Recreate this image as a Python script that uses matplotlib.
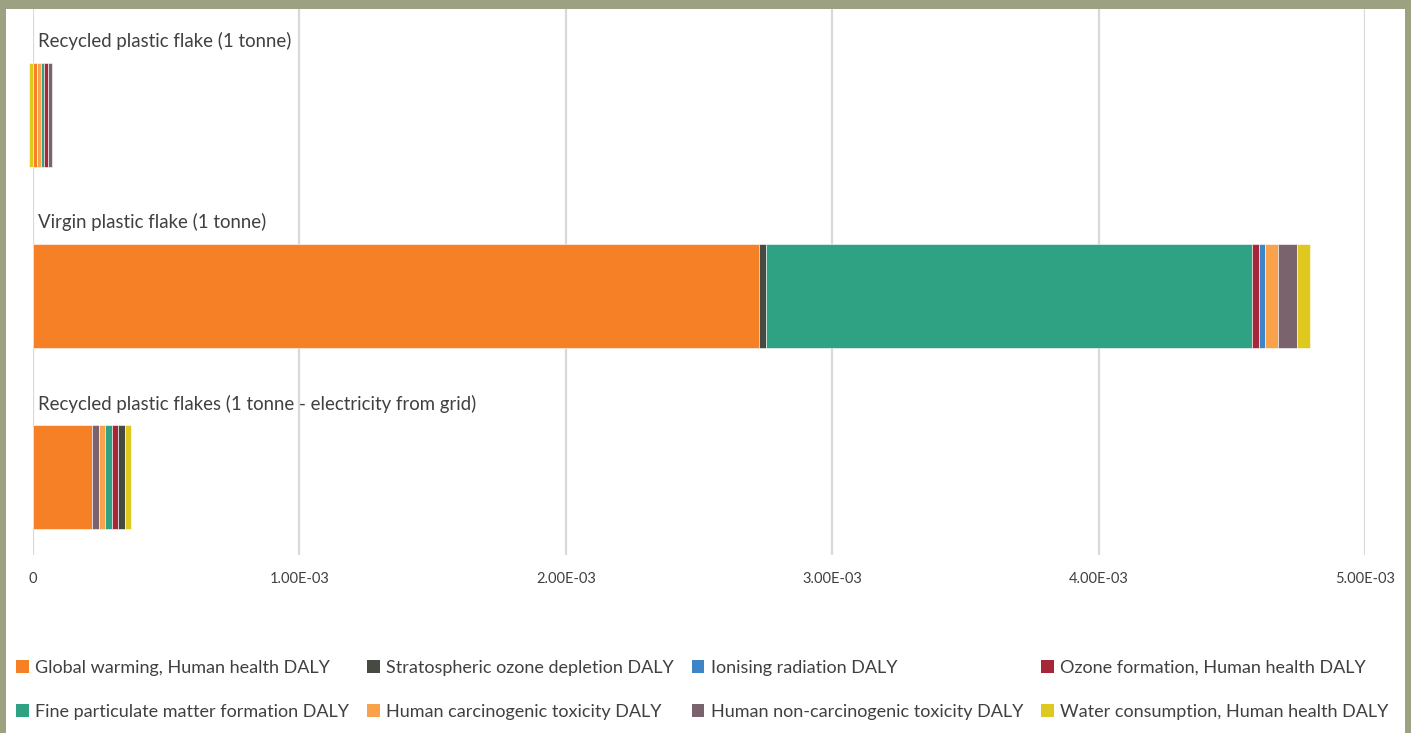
import matplotlib.pyplot as plt
from matplotlib.patches import Patch, Rectangle

# DALY per tonne of flake, by impact category
categories = ["Recycled plastic flake (1 tonne)",
              "Virgin plastic flake (1 tonne)",
              "Recycled plastic flakes (1 tonne - electricity from grid)"]

global_warming = [1.5e-5, 2.726e-3, 2.21e-4]
strat_ozone = [0.0, 2.5e-5, 2.6e-5]
ionising = [0.0, 2.4e-5, 0.0]
ozone_formation = [1.35e-5, 2.5e-5, 2.4e-5]
fine_pm = [1.4e-5, 1.825e-3, 2.4e-5]
carcinogenic = [1.4e-5, 5.0e-5, 2.5e-5]
non_carcinogenic = [1.6e-5, 7.1e-5, 2.5e-5]
water = [-1.4e-5, 4.9e-5, 2.4e-5]

names = ["Global warming, Human health DALY",
         "Stratospheric ozone depletion DALY",
         "Ionising radiation DALY",
         "Ozone formation, Human health DALY",
         "Fine particulate matter formation DALY",
         "Human carcinogenic toxicity DALY",
         "Human non-carcinogenic toxicity DALY",
         "Water consumption, Human health DALY"]
values = [global_warming, strat_ozone, ionising, ozone_formation,
          fine_pm, carcinogenic, non_carcinogenic, water]
colors = ["#f58025", "#474a42", "#3d85c6", "#a6263a",
          "#2ea283", "#f9a24b", "#7b636d", "#dfc91f"]

# order in which segments are stacked on each bar
stack_order = [[7, 0, 1, 2, 5, 4, 3, 6],
               [0, 1, 4, 3, 2, 5, 6, 7],
               [0, 6, 5, 4, 3, 1, 2, 7]]

xticks = [0, 0.001, 0.002, 0.003, 0.004, 0.005]
xticklabels = ["0", "1.00E-03", "2.00E-03", "3.00E-03", "4.00E-03", "5.00E-03"]

W, H = 1411, 733
fig = plt.figure(figsize=(W / 100, H / 100), dpi=100)
fig.patch.set_facecolor("#9ba181")
fig.patches.append(Rectangle((6 / W, 0), 1399 / W, 724 / H, transform=fig.transFigure,
                             facecolor="white", edgecolor="none", zorder=-10))

ax = fig.add_axes([33 / W, 178 / H, 1332 / W, 546 / H])
ax.set_facecolor("none")

txt = "#404040"
font = ["Lato", "DejaVu Sans"]

for i in range(len(categories)):
    pos, neg = 0.0, 0.0
    for s in stack_order[i]:
        v = values[s][i]
        if v >= 0:
            ax.barh(i, v, left=pos, height=0.575, color=colors[s],
                    edgecolor="white", linewidth=0.4, clip_on=False, zorder=3)
            pos += v
        else:
            ax.barh(i, v, left=neg, height=0.575, color=colors[s],
                    edgecolor="white", linewidth=0.4, clip_on=False, zorder=3)
            neg += v
    ax.text(1.9e-5, i - 0.405, categories[i], va="center", ha="left",
            fontsize=13.4, color=txt, family=font)

ax.set_xlim(0, 0.005)
ax.set_ylim(2.431, -0.583)
ax.set_yticks([])
ax.set_xticks(xticks)
ax.set_xticklabels(xticklabels, fontsize=10.5, color=txt, family=font)
ax.tick_params(axis="x", length=0, pad=12)
ax.grid(axis="x", color="#d9d9d9", linewidth=1.6, zorder=0)
ax.set_axisbelow(True)
for sp in ax.spines.values():
    sp.set_visible(False)

# legend filled column by column, so interleave rows
leg_idx = [0, 4, 1, 5, 2, 6, 3, 7]
handles = [Patch(facecolor=colors[k], edgecolor="none", label=names[k]) for k in leg_idx]
leg = fig.legend(handles=handles, ncol=4, loc="center left",
                 bbox_to_anchor=(7 / W, (H - 690) / H), frameon=False,
                 prop={"family": font, "size": 13}, labelcolor=txt,
                 handlelength=0.7, handleheight=0.7, handletextpad=0.35,
                 columnspacing=1.0, labelspacing=1.55, borderpad=0)

fig.savefig("out.png", dpi=100, facecolor=fig.get_facecolor())
